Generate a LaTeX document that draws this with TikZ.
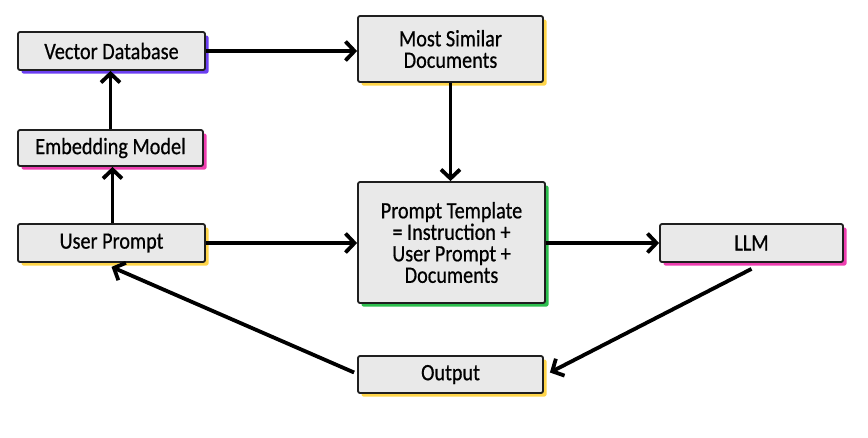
\documentclass[tikz,border=0pt]{standalone}
\usepackage{fontspec}
\setmainfont{Carlito}[FakeStretch=0.86,FakeBold=0.6]
\usetikzlibrary{arrows.meta,shadows}
\definecolor{boxfill}{HTML}{E9E9E9}
\definecolor{cpurple}{HTML}{6B3FF0}
\definecolor{cpink}{HTML}{EE3FB0}
\definecolor{cyellow}{HTML}{FFD54A}
\definecolor{cgreen}{HTML}{2DBE4E}
\tikzset{
  box/.style={draw=black!88, line width=1.8pt, fill=boxfill, rounded corners=2pt,
    align=center, inner sep=2pt, font=\fontsize{23.5}{21.5}\selectfont},
  sh/.style={general shadow={fill=#1, shadow xshift=3.5pt, shadow yshift=-3.5pt}},
  conn/.style={line width=3.8pt, -{Straight Barb[length=9pt,width=19pt,line width=3.8pt]}}
}
\begin{document}
\begin{tikzpicture}[x=1pt,y=-1pt]
\useasboundingbox (0,0) rectangle (868,437);
\node[box, sh=cpurple, minimum width=187pt, minimum height=38pt] (vdb) at (111.5,51) {Vector Database};
\node[box, sh=cpink, minimum width=185pt, minimum height=36pt] (emb) at (110.5,148) {Embedding Model};
\node[box, sh=cyellow, minimum width=187pt, minimum height=38pt] (up) at (111.5,243) {User Prompt};
\node[box, sh=cyellow, minimum width=185pt, minimum height=66pt] (msd) at (450.5,49) {Most Similar\\Documents};
\node[box, sh=cgreen, minimum width=187pt, minimum height=121pt] (pt) at (451.5,242.5) {Prompt Template\\= Instruction +\\User Prompt +\\Documents};
\node[box, sh=cpink, minimum width=183pt, minimum height=38pt] (llm) at (751.5,243) {LLM};
\node[box, sh=cyellow, minimum width=185pt, minimum height=37pt] (out) at (450.5,374.5) {Output};
\draw[conn] (vdb.east) -- (msd.west |- vdb.east);
\draw[conn] (emb.north) -- (emb.north |- vdb.south);
\draw[conn] ([xshift=1pt]up.north) -- ([xshift=1pt]up.north |- emb.south);
\draw[conn] (msd.south) -- (msd.south |- pt.north);
\draw[conn] (up.east) -- (pt.west |- up.east);
\draw[conn] (pt.east |- llm.west) -- (llm.west);
\draw[conn] ([yshift=-6pt]llm.south) -- ([xshift=6pt,yshift=2pt]out.east);
\draw[conn] ([xshift=-3pt,yshift=2pt]out.west) -- ([yshift=-4pt]up.south);
\end{tikzpicture}
\end{document}
